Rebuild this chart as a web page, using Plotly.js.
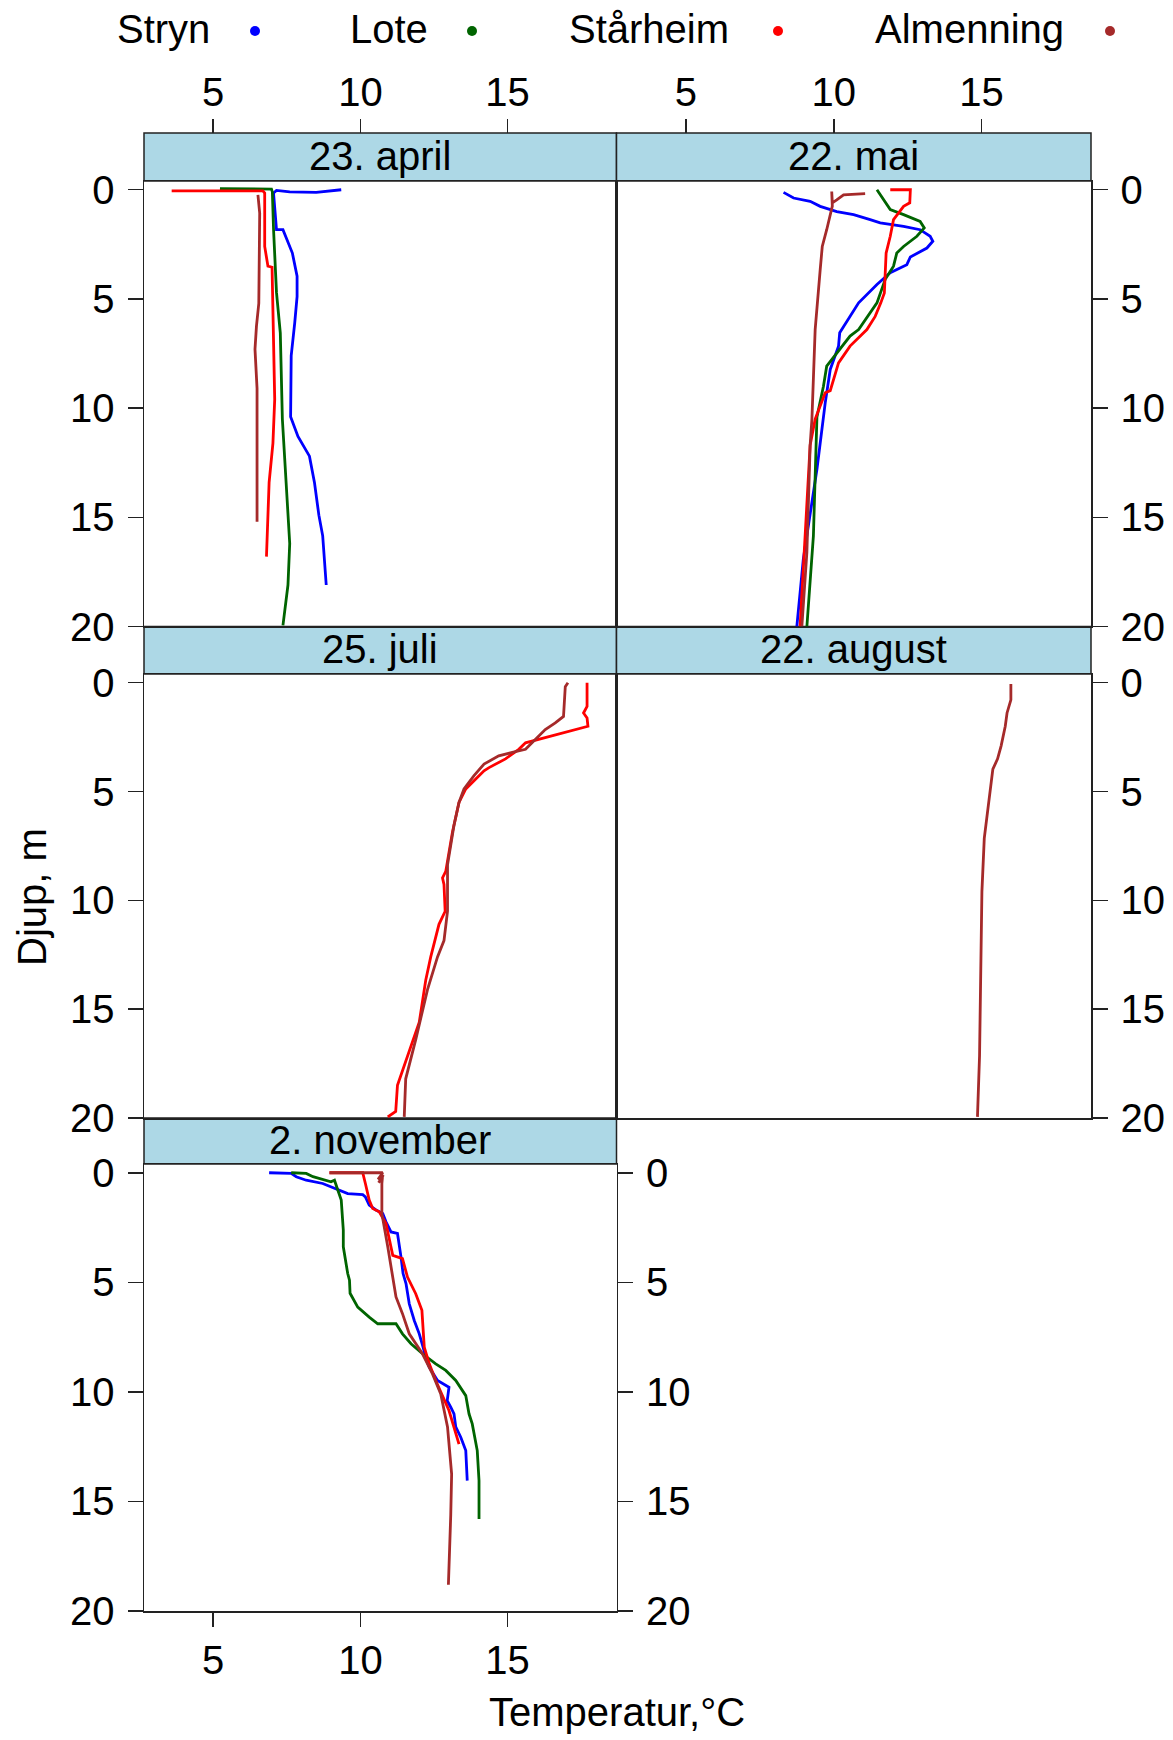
<!DOCTYPE html>
<html>
<head>
<meta charset="utf-8">
<script src="https://cdn.plot.ly/plotly-3.0.1.min.js"></script>
<style>
  body { margin: 0; background: #fff; }
  #chart { width: 1173px; height: 1740px; }
</style>
</head>
<body>
<div id="chart"></div>
<script>
// sites and colours, in the order of the key
const sites = ["Stryn", "Lote", "Stårheim", "Almenning"];
const siteColors = ["#0000FF", "#006400", "#FF0000", "#A52A2A"];
const panelTitles = ["23. april", "22. mai", "25. juli", "22. august", "2. november"];
const depthTicks = [0, 5, 10, 15, 20];
const tempTicks = [5, 10, 15];

// 23. april
const aprStrynT = [9.35, 8.5, 7.6, 7.15, 7.05, 7.15, 7.37, 7.69, 7.85, 7.85, 7.77, 7.65, 7.63, 7.88, 8.27, 8.44, 8.59, 8.72, 8.84];
const aprStrynD = [0.0, 0.12, 0.1, 0.03, 0.15, 1.83, 1.83, 2.9, 3.96, 4.9, 6.1, 7.6, 10.4, 11.3, 12.2, 13.4, 14.9, 15.85, 18.1];
const aprLoteT = [5.23, 6.5, 6.98, 7.01, 7.05, 7.15, 7.28, 7.35, 7.48, 7.6, 7.54, 7.37];
const aprLoteD = [-0.05, -0.03, -0.03, 0.1, 1.8, 4.7, 6.55, 10.5, 13.6, 16.2, 18.1, 19.95];
const aprStarheimT = [3.59, 5.5, 6.69, 6.75, 6.75, 6.86, 7.0, 7.09, 7.03, 6.9, 6.81];
const aprStarheimD = [0.05, 0.05, 0.05, 0.15, 2.6, 3.5, 3.55, 9.6, 11.6, 13.4, 16.8];
const aprAlmT = [6.52, 6.58, 6.55, 6.47, 6.42, 6.49, 6.49];
const aprAlmD = [0.23, 1.07, 5.2, 6.25, 7.3, 9.1, 15.2];

// 22. mai
const maiStrynT = [8.3, 8.64, 9.2, 9.54, 10.1, 10.67, 11.23, 11.57, 12.36, 12.92, 13.26, 13.35, 13.15, 12.7, 12.59, 12.47, 11.91, 11.46, 10.84, 10.2, 10.16, 9.88, 9.71, 9.43, 8.97, 8.75];
const maiStrynD = [0.12, 0.38, 0.53, 0.76, 1.0, 1.14, 1.37, 1.52, 1.68, 1.83, 2.13, 2.36, 2.67, 3.0, 3.08, 3.43, 3.8, 4.34, 5.18, 6.55, 7.16, 8.23, 9.76, 12.8, 16.9, 20.0];
const maiLoteT = [11.46, 11.57, 11.74, 11.91, 12.36, 12.92, 13.06, 12.81, 12.36, 12.13, 12.02, 11.74, 11.46, 10.84, 10.55, 9.76, 9.65, 9.43, 9.31, 9.09];
const maiLoteD = [0.0, 0.23, 0.6, 0.91, 1.14, 1.45, 1.75, 2.13, 2.6, 2.9, 3.5, 4.1, 5.18, 6.4, 6.7, 8.08, 9.0, 10.4, 15.85, 20.0];
const maiStarheimT = [11.91, 12.59, 12.57, 12.36, 12.02, 11.91, 11.77, 11.71, 11.59, 11.4, 11.12, 10.55, 10.16, 9.88, 9.71, 9.37, 9.2, 9.09, 8.97, 8.86];
const maiStarheimD = [0.0, 0.0, 0.6, 0.76, 1.37, 2.13, 2.9, 4.73, 5.18, 5.8, 6.4, 7.16, 7.93, 9.2, 9.3, 10.5, 11.7, 14.3, 16.9, 20.0];
const maiAlmT = [11.06, 10.33, 10.1, 9.95, 9.93, 9.95, 9.76, 9.61, 9.54, 9.37, 9.26, 9.2, 9.09, 8.92];
const maiAlmD = [0.18, 0.23, 0.46, 0.6, 0.08, 0.75, 1.83, 2.6, 3.66, 6.4, 10.5, 11.7, 16.6, 20.0];

// 25. juli
const julStarheimT = [17.7, 17.7, 17.58, 17.7, 17.73, 17.07, 16.06, 15.61, 15.38, 14.93, 14.37, 14.2, 13.58, 13.35, 13.13, 12.9, 12.79, 12.84, 12.88, 12.67, 12.39, 12.22, 12.0, 11.54, 11.26, 11.2, 10.93];
const julStarheimD = [0.0, 1.09, 1.39, 1.62, 2.0, 2.23, 2.6, 2.76, 3.06, 3.5, 3.9, 4.05, 4.88, 5.5, 6.85, 8.67, 8.97, 9.27, 10.5, 11.1, 12.6, 13.67, 15.6, 17.45, 18.5, 19.7, 19.95];
const julAlmT = [17.05, 16.96, 16.9, 16.62, 16.28, 15.83, 15.61, 15.16, 14.7, 14.2, 13.86, 13.52, 13.35, 13.18, 12.96, 12.96, 12.84, 12.62, 12.28, 11.88, 11.54, 11.49];
const julAlmD = [0.0, 0.18, 1.55, 1.85, 2.15, 2.76, 3.06, 3.2, 3.36, 3.74, 4.27, 4.88, 5.5, 6.55, 8.36, 10.5, 11.85, 12.6, 14.1, 16.4, 18.2, 19.95];

// 22. august
const augAlmT = [15.99, 15.99, 15.86, 15.8, 15.66, 15.54, 15.38, 15.29, 15.09, 15.01, 14.98, 14.93, 14.86];
const augAlmD = [0.06, 0.79, 1.39, 2.0, 2.9, 3.5, 3.97, 5.0, 7.15, 9.6, 12.6, 17.15, 19.95];

// 2. november
const novStrynT = [6.9, 7.65, 7.82, 8.16, 8.72, 9.0, 9.29, 9.57, 10.08, 10.17, 10.3, 10.53, 10.76, 10.87, 11.04, 11.26, 11.38, 11.45, 11.55, 11.66, 11.83, 12.0, 12.13, 12.25, 12.34, 12.62, 13.01, 12.95, 13.07, 13.18, 13.24, 13.41, 13.58, 13.63];
const novStrynD = [0.0, 0.03, 0.18, 0.34, 0.49, 0.64, 0.79, 0.95, 1.0, 1.1, 1.48, 1.7, 1.86, 2.24, 2.7, 2.77, 3.84, 4.6, 5.06, 5.98, 6.74, 7.35, 7.96, 8.57, 8.87, 9.48, 9.79, 10.4, 10.7, 11.0, 11.6, 12.07, 12.68, 14.05];
const novLoteT = [7.65, 8.16, 8.39, 8.84, 9.0, 9.12, 9.23, 9.35, 9.42, 9.42, 9.57, 9.63, 9.65, 9.91, 10.3, 10.59, 11.21, 11.43, 11.72, 12.11, 12.56, 12.9, 13.24, 13.58, 13.69, 13.8, 13.97, 14.03, 14.03];
const novLoteD = [0.0, 0.03, 0.18, 0.34, 0.41, 0.34, 0.79, 1.25, 2.62, 3.38, 4.6, 4.9, 5.5, 6.13, 6.59, 6.89, 6.89, 7.35, 7.8, 8.26, 8.72, 9.02, 9.48, 10.17, 11.0, 11.46, 12.68, 14.05, 15.8];
const novStarheimT = [8.95, 10.08, 10.17, 10.3, 10.42, 10.64, 10.87, 11.1, 11.43, 11.6, 11.88, 12.09, 12.17, 12.34, 12.56, 13.01, 13.35];
const novStarheimD = [0.0, 0.0, 0.49, 1.25, 1.63, 1.78, 2.32, 3.77, 3.92, 4.76, 5.52, 6.28, 7.96, 8.72, 9.48, 10.85, 12.38];
const novAlmT = [8.95, 10.76, 10.6, 10.78, 10.62, 10.75, 10.73, 10.73, 10.93, 11.1, 11.21, 11.43, 11.66, 12.11, 12.45, 12.73, 12.96, 13.1, 13.07, 12.99];
const novAlmD = [0.0, 0.0, 0.3, 0.1, 0.45, 0.2, 0.49, 1.86, 3.38, 4.9, 5.67, 6.43, 7.35, 8.26, 9.18, 10.09, 11.6, 13.75, 15.6, 18.8];

// panel -> axes and the profiles in it (site index, temps, depths)
const panels = [
  { xa: "x", ya: "y", profiles: [[0, aprStrynT, aprStrynD], [1, aprLoteT, aprLoteD], [2, aprStarheimT, aprStarheimD], [3, aprAlmT, aprAlmD]] },
  { xa: "x2", ya: "y2", profiles: [[0, maiStrynT, maiStrynD], [1, maiLoteT, maiLoteD], [2, maiStarheimT, maiStarheimD], [3, maiAlmT, maiAlmD]] },
  { xa: "x3", ya: "y3", profiles: [[2, julStarheimT, julStarheimD], [3, julAlmT, julAlmD]] },
  { xa: "x4", ya: "y4", profiles: [[3, augAlmT, augAlmD]] },
  { xa: "x5", ya: "y5", profiles: [[0, novStrynT, novStrynD], [1, novLoteT, novLoteD], [2, novStarheimT, novStarheimD], [3, novAlmT, novAlmD]] },
];

const W = 1173, H = 1740;
const px = (v) => v / W;
const py = (v) => 1 - v / H;

const FONT = "Liberation Sans, Arial, sans-serif";
const FS = 40;
const AX = "#222";

const col1 = [px(144), px(616.5)];
const col2 = [px(616.5), px(1091)];
const row1 = [py(626.5), py(181)];
const row2 = [py(1118), py(674)];
const row3 = [py(1611), py(1164)];
const strips = [[133, 181], [626.5, 674], [1118, 1164]];

const xRange = [2.65, 18.7];
const yRange = [20, -0.4];

let traces = [];
panels.forEach((p) => {
  p.profiles.forEach(([s, t, d]) => {
    traces.push({
      x: t,
      y: d,
      xaxis: p.xa,
      yaxis: p.ya,
      type: "scatter",
      mode: "lines",
      name: sites[s],
      line: { color: siteColors[s], width: 2.8 },
      showlegend: false,
      hoverinfo: "skip",
    });
  });
});
// empty traces so the extra tick axes get drawn
traces.push({ x: [], y: [], xaxis: "x6", yaxis: "y", type: "scatter", showlegend: false });
traces.push({ x: [], y: [], xaxis: "x7", yaxis: "y2", type: "scatter", showlegend: false });
traces.push({ x: [], y: [], xaxis: "x5", yaxis: "y6", type: "scatter", showlegend: false });

const frameX = (domain, anchor, extra) => Object.assign({
  domain: domain,
  anchor: anchor,
  range: xRange,
  showgrid: false,
  zeroline: false,
  showline: true,
  mirror: true,
  linecolor: AX,
  linewidth: 1.5,
  ticks: "",
  showticklabels: false,
  fixedrange: true,
}, extra || {});

const frameY = (domain, anchor, side) => ({
  domain: domain,
  anchor: anchor,
  range: yRange,
  side: side,
  showgrid: false,
  zeroline: false,
  showline: true,
  mirror: true,
  linecolor: AX,
  linewidth: 1.5,
  ticks: "outside",
  ticklen: 15,
  tickwidth: 1.5,
  tickcolor: AX,
  tickvals: depthTicks,
  ticklabelstandoff: 5,
  tickfont: { family: FONT, size: FS, color: "#000" },
  fixedrange: true,
});

const tickX = (overlay, extra) => Object.assign({
  overlaying: overlay,
  range: xRange,
  showgrid: false,
  zeroline: false,
  showline: false,
  ticks: "outside",
  ticklen: 14,
  tickwidth: 1.5,
  tickcolor: AX,
  tickvals: tempTicks,
  ticklabelstandoff: -3,
  tickfont: { family: FONT, size: FS, color: "#000" },
  fixedrange: true,
}, extra);

let shapes = [];
let annotations = [];

// strips
[[col1, 0], [col2, 0], [col1, 1], [col2, 1], [col1, 2]].forEach(([c, r], i) => {
  const [top, bottom] = strips[r];
  shapes.push({
    type: "rect", xref: "paper", yref: "paper",
    x0: c[0], x1: c[1], y0: py(bottom), y1: py(top),
    fillcolor: "#ADD8E6", line: { color: AX, width: 1.5 }, layer: "below",
  });
  annotations.push({
    xref: "paper", yref: "paper",
    x: (c[0] + c[1]) / 2, y: py((top + bottom) / 2 - 1),
    text: panelTitles[i], showarrow: false,
    xanchor: "center", yanchor: "middle",
    font: { family: FONT, size: FS, color: "#000" },
  });
});

// key along the top: text, then a dot
const keyTextRight = [212, 430, 731, 1066];
const keyDotX = [255, 472, 778, 1110];
sites.forEach((s, i) => {
  annotations.push({
    xref: "paper", yref: "paper",
    x: px(keyTextRight[i]), y: py(29),
    text: s, showarrow: false, xanchor: "right", yanchor: "middle",
    font: { family: FONT, size: FS, color: "#000" },
  });
  shapes.push({
    type: "circle", xref: "paper", yref: "paper",
    x0: px(keyDotX[i] - 5), x1: px(keyDotX[i] + 5),
    y0: py(31 + 5), y1: py(31 - 5),
    fillcolor: siteColors[i], line: { color: siteColors[i], width: 0 },
  });
});

annotations.push({
  xref: "paper", yref: "paper", x: px(617), y: py(1712),
  text: "Temperatur,°C", showarrow: false, xanchor: "center", yanchor: "middle",
  font: { family: FONT, size: FS, color: "#000" },
});
annotations.push({
  xref: "paper", yref: "paper", x: px(32), y: py(897),
  text: "Djup, m", showarrow: false, textangle: -90, xanchor: "center", yanchor: "middle",
  font: { family: FONT, size: FS, color: "#000" },
});

const layout = {
  width: W,
  height: H,
  margin: { l: 0, r: 0, t: 0, b: 0, pad: 0 },
  paper_bgcolor: "#fff",
  plot_bgcolor: "#fff",
  showlegend: false,
  hovermode: false,
  font: { family: FONT, size: FS, color: "#000" },
  xaxis: frameX(col1, "y"),
  yaxis: frameY(row1, "x", "left"),
  xaxis2: frameX(col2, "y2"),
  yaxis2: frameY(row1, "x2", "right"),
  xaxis3: frameX(col1, "y3"),
  yaxis3: frameY(row2, "x3", "left"),
  xaxis4: frameX(col2, "y4"),
  yaxis4: frameY(row2, "x4", "right"),
  xaxis5: frameX(col1, "y5", {
    side: "bottom",
    ticks: "outside",
    ticklen: 14,
    tickwidth: 1.5,
    tickcolor: AX,
    tickvals: tempTicks,
    showticklabels: true,
    ticklabelstandoff: -1,
    tickfont: { family: FONT, size: FS, color: "#000" },
  }),
  yaxis5: frameY(row3, "x5", "left"),
  yaxis6: Object.assign(frameY(row3, "x5", "right"), { overlaying: "y5", mirror: false }),
  xaxis6: tickX("x", { anchor: "free", position: py(133), side: "top" }),
  xaxis7: tickX("x2", { anchor: "free", position: py(133), side: "top" }),
  shapes: shapes,
  annotations: annotations,
};

Plotly.newPlot("chart", traces, layout, { displayModeBar: false, staticPlot: true });
</script>
</body>
</html>
